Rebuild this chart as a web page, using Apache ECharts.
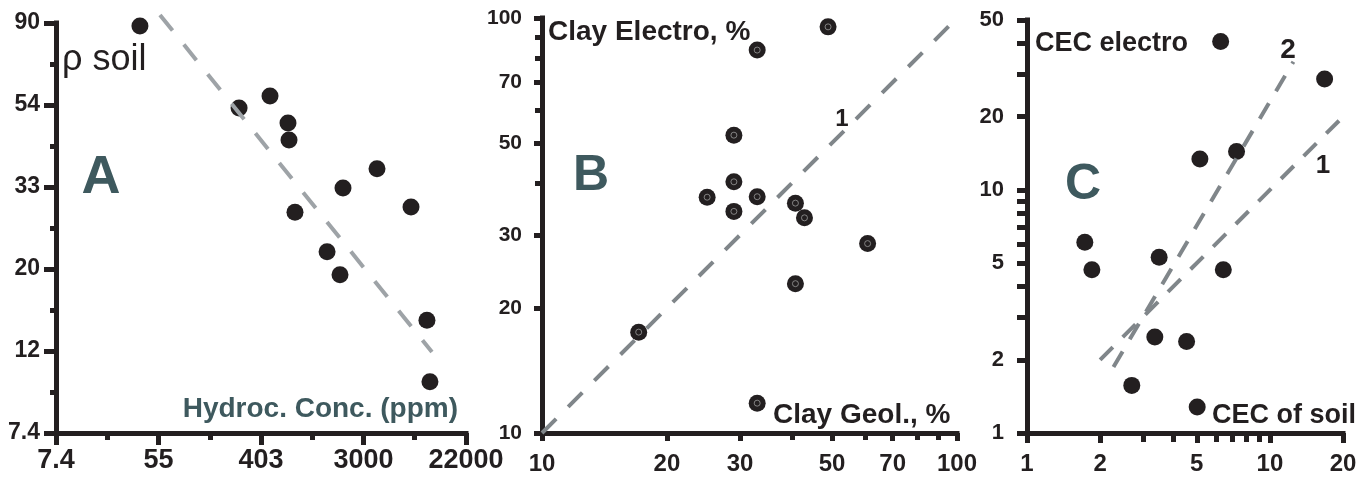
<!DOCTYPE html>
<html>
<head>
<meta charset="utf-8">
<script src="https://cdn.jsdelivr.net/npm/echarts@6/dist/echarts.min.js"></script>
<style>
  html, body { margin: 0; padding: 0; background: #fff; }
  #chart { width: 1372px; height: 478px; }
</style>
</head>
<body>
<div id="chart"></div>
<script>
// panel A: resistivity of soil vs hydrocarbon concentration
const hydroA = [38, 263, 481, 683, 697, 783, 1464, 1885, 1998, 3880, 7533, 10280, 10900]
const rhoA = [88.4, 53.6, 57.7, 48.9, 44.1, 28.4, 22.3, 19.4, 32.9, 37.0, 29.3, 14.7, 10.1]
const fitA = [[56.2, 94.5], [11340, 12.1]]
const xTickLabelsA = ['7.4', '55', '403', '3000', '22000']
const xTicksA = [2, 4, 6, 8, 10].map(Math.exp)
const xMinorA = [3, 5, 7, 9].map(Math.exp)
const yTickLabelsA = ['7.4', '12', '20', '33', '54', '90']
const yTicksA = [2, 2.5, 3, 3.5, 4, 4.5].map(Math.exp)
const yMinorA = [2.25, 2.75, 3.25, 3.75, 4.25].map(Math.exp)

// panel B: clay electro vs clay geol
const clayGeol = [48.9, 33.0, 29.0, 29.0, 25.0, 33.0, 29.0, 40.8, 42.9, 60.9, 40.8, 17.1, 33.0]
const clayElectro = [95.2, 83.7, 52.2, 40.3, 37.0, 37.1, 34.2, 35.8, 33.0, 28.6, 22.9, 17.5, 11.8]
const lineB = [[10, 10], [100, 100]]
const ticksB = [10, 20, 30, 50, 70, 100]
const minorB = [40, 60, 80, 90]

// panel C: CEC electro vs CEC of soil
const cecSoil = [6.27, 16.8, 5.15, 7.29, 1.73, 1.85, 3.50, 6.43, 3.36, 4.54, 2.70, 5.02]
const cecElectro = [40.8, 28.6, 13.4, 14.4, 6.09, 4.69, 5.28, 4.69, 2.48, 2.38, 1.57, 1.28]
const line1C = [[2, 2], [20, 20]]
const line2C = [[2.27, 1.87], [12.5, 33.7]]
const xTicksC = [1, 2, 5, 10, 20]
const xMinorC = [3, 4, 6, 7, 8, 9]
const yTicksC = [1, 2, 5, 10, 20, 50]
const yMinorC = [3, 4, 6, 7, 8, 9, 30, 40]

const ink = '#231f20'
const teal = '#3e595e'

function zip (xs, ys) {
  return xs.map((x, i) => [x, ys[i]])
}

function nearestLabel (v, vals, labels) {
  let best = 0
  vals.forEach((t, i) => {
    if (Math.abs(Math.log(t) - Math.log(v)) < Math.abs(Math.log(vals[best]) - Math.log(v))) best = i
  })
  return labels[best]
}

// log axis with the labelled ticks; a tiny pad keeps the end ticks inside the extent
function majorAxis (gridIndex, position, min, max, vals, labels, tickLen, fontSize, margin) {
  return {
    type: 'log',
    gridIndex: gridIndex,
    position: position,
    min: min * 0.99999,
    max: max * 1.00001,
    z: 3,
    axisLine: { show: true, onZero: false, lineStyle: { color: ink, width: 5, cap: 'square' } },
    axisTick: { show: true, customValues: vals, length: tickLen, lineStyle: { color: ink, width: 5 } },
    axisLabel: {
      customValues: vals,
      margin: margin,
      color: ink,
      fontFamily: 'Liberation Sans',
      fontWeight: 'bold',
      fontSize: fontSize,
      formatter: v => nearestLabel(v, vals, labels)
    },
    splitLine: { show: false }
  }
}

// same scale again, only to carry the short unlabelled ticks
function minorAxis (gridIndex, position, min, max, vals, tickLen) {
  return {
    type: 'log',
    gridIndex: gridIndex,
    position: position,
    min: min * 0.99999,
    max: max * 1.00001,
    axisLine: { show: false, onZero: false },
    axisTick: { show: true, customValues: vals, length: tickLen, lineStyle: { color: ink, width: 5 } },
    axisLabel: { show: false, customValues: vals },
    splitLine: { show: false }
  }
}

function dashed (name, data, xi, color, dash) {
  return {
    name: name,
    type: 'line',
    xAxisIndex: xi,
    yAxisIndex: xi,
    data: data,
    showSymbol: false,
    symbol: 'none',
    clip: false,
    silent: true,
    z: 5,
    lineStyle: { color: color, width: 4, type: dash }
  }
}

function dots (data, xi) {
  return {
    type: 'scatter',
    xAxisIndex: xi,
    yAxisIndex: xi,
    data: data,
    symbolSize: 17,
    itemStyle: { color: ink, opacity: 1 }
  }
}

function label (text, x, y, size, opts) {
  opts = opts || {}
  return {
    type: 'text',
    x: x,
    y: y,
    z: 10,
    style: {
      text: text,
      fill: opts.color || ink,
      font: (opts.weight || 'bold') + ' ' + size + 'px "Liberation Sans", Arial, sans-serif',
      textAlign: opts.align || 'left',
      textVerticalAlign: 'middle'
    }
  }
}

const chart = echarts.init(document.getElementById('chart'))

const strB = ticksB.map(String)

const option = {
  animation: false,
  backgroundColor: '#fff',
  grid: [
    { left: 56, top: 23, width: 410, height: 410 },
    { left: 542, top: 18, width: 415, height: 415 },
    { left: 1027, top: 20, width: 316, height: 413 }
  ],
  xAxis: [
    majorAxis(0, 'bottom', xTicksA[0], xTicksA[4], xTicksA, xTickLabelsA, 12, 27, 14),
    minorAxis(0, 'bottom', xTicksA[0], xTicksA[4], xMinorA, 7),
    majorAxis(1, 'bottom', 10, 100, ticksB, strB, 8, 24, 19),
    minorAxis(1, 'bottom', 10, 100, minorB, 7),
    majorAxis(2, 'bottom', 1, 20, xTicksC, xTicksC.map(String), 10, 24, 19),
    minorAxis(2, 'bottom', 1, 20, xMinorC, 9)
  ],
  yAxis: [
    majorAxis(0, 'left', yTicksA[0], yTicksA[5], yTicksA, yTickLabelsA, 12, 23, 16),
    minorAxis(0, 'left', yTicksA[0], yTicksA[5], yMinorA, 6),
    majorAxis(1, 'left', 10, 100, ticksB, strB, 8, 21, 20),
    minorAxis(1, 'left', 10, 100, minorB, 7),
    majorAxis(2, 'left', 1, 50, yTicksC, yTicksC.map(String), 10, 22, 23),
    minorAxis(2, 'left', 1, 50, yMinorC, 10)
  ],
  series: [
    dots(zip(hydroA, rhoA), 0),
    dots(zip(clayGeol, clayElectro), 2),
    {
      type: 'scatter',
      xAxisIndex: 2,
      yAxisIndex: 2,
      data: zip(clayGeol, clayElectro),
      symbolSize: 6,
      z: 3,
      itemStyle: { color: 'rgba(0,0,0,0)', borderColor: '#9a9a9a', borderWidth: 1 }
    },
    dots(zip(cecSoil, cecElectro), 4),
    dashed('fit A', fitA, 0, '#9ea3a7', [20, 18]),
    dashed('1:1', lineB, 2, '#80868a', [20, 17]),
    dashed('1', line1C, 4, '#80868a', [18, 14]),
    dashed('2', line2C, 4, '#80868a', [18, 14])
  ],
  graphic: [
    label('ρ soil', 62, 60, 36, { weight: 'normal' }),
    label('A', 101, 178, 54, { color: teal, align: 'center' }),
    label('Hydroc. Conc. (ppm)', 458, 409, 28, { color: teal, align: 'right' }),
    label('Clay Electro, %', 548, 32, 28),
    label('B', 591, 176, 50, { color: teal, align: 'center' }),
    label('1', 842, 119, 24, { align: 'center' }),
    label('Clay Geol., %', 773, 415, 28),
    label('CEC electro', 1035, 44, 27),
    label('C', 1083, 185, 50, { color: teal, align: 'center' }),
    label('2', 1288, 50, 28, { align: 'center' }),
    label('1', 1323, 166, 26, { align: 'center' }),
    label('CEC of soil', 1212, 416, 27)
  ]
}

chart.setOption(option)
</script>
</body>
</html>
